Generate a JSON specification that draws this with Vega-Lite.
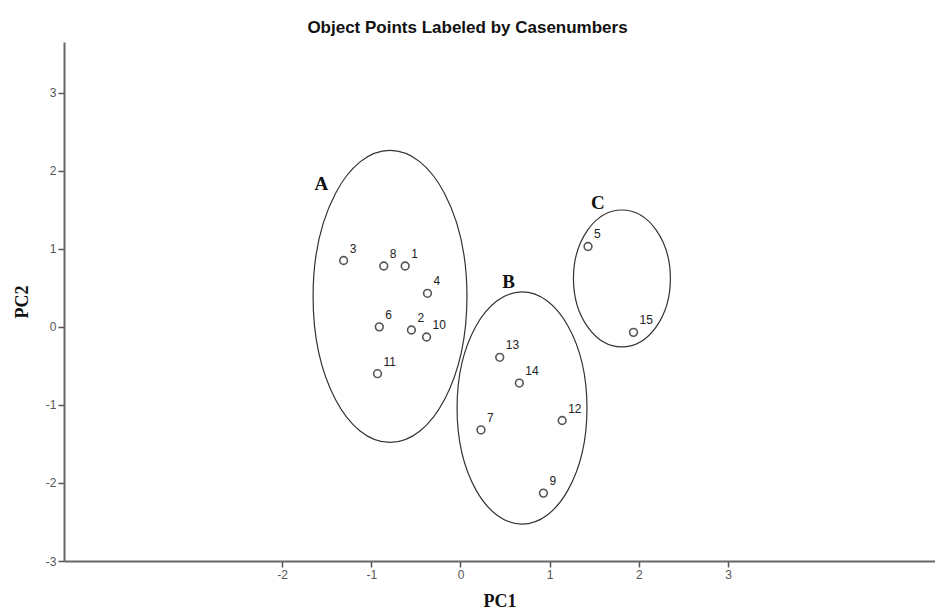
{
  "$schema": "https://vega.github.io/schema/vega-lite/v6.json",
  "width": 871,
  "height": 519,
  "autosize": {"type": "none"},
  "padding": {"left": 64, "top": 42, "right": 0, "bottom": 54},
  "background": "white",
  "title": {
    "text": "Object Points Labeled by Casenumbers",
    "font": "Liberation Sans",
    "fontSize": 17,
    "fontWeight": "bold",
    "color": "#111",
    "anchor": "middle",
    "dx": -32,
    "offset": 5
  },
  "config": {
    "view": {"stroke": null},
    "axis": {
      "grid": false,
      "domainColor": "#666",
      "domainWidth": 2,
      "tickColor": "#555",
      "tickWidth": 1.5,
      "tickSize": 6,
      "labelFont": "Liberation Sans",
      "labelFontSize": 12,
      "labelColor": "#555",
      "labelExpr": "'' + datum.value",
      "titleFont": "Liberation Serif",
      "titleFontSize": 18,
      "titleFontWeight": "bold",
      "titleColor": "#111"
    }
  },
  "datasets": {
    "points": [
      {"case": "1", "pc1": -0.62, "pc2": 0.78},
      {"case": "2", "pc1": -0.55, "pc2": -0.04},
      {"case": "3", "pc1": -1.31, "pc2": 0.85},
      {"case": "4", "pc1": -0.37, "pc2": 0.43},
      {"case": "5", "pc1": 1.43, "pc2": 1.03},
      {"case": "6", "pc1": -0.91, "pc2": 0.0},
      {"case": "7", "pc1": 0.23, "pc2": -1.32},
      {"case": "8", "pc1": -0.86, "pc2": 0.78},
      {"case": "9", "pc1": 0.93, "pc2": -2.13},
      {"case": "10", "pc1": -0.38, "pc2": -0.13},
      {"case": "11", "pc1": -0.93, "pc2": -0.6},
      {"case": "12", "pc1": 1.14, "pc2": -1.2},
      {"case": "13", "pc1": 0.44, "pc2": -0.39},
      {"case": "14", "pc1": 0.66, "pc2": -0.72},
      {"case": "15", "pc1": 1.94, "pc2": -0.07}
    ],
    "clusters": [
      {"group": "A", "cx": -0.79, "cy": 0.39, "lx": -1.56, "ly": 1.83},
      {"group": "B", "cx": 0.69, "cy": -1.04, "lx": 0.54, "ly": 0.57},
      {"group": "C", "cx": 1.81, "cy": 0.62, "lx": 1.54, "ly": 1.59}
    ]
  },
  "layer": [
    {
      "mark": {"type": "rule", "color": "#888", "strokeWidth": 2},
      "encoding": {"y": {"datum": 3.65, "type": "quantitative"}}
    },
    {
      "data": {"name": "clusters"},
      "mark": {"type": "point", "filled": false, "stroke": "#333", "strokeWidth": 1.2, "opacity": 1, "size": 85264},
      "encoding": {
        "x": {
          "field": "cx", "type": "quantitative",
          "scale": {"domain": [-4.445, 5.32], "nice": false, "zero": false},
          "axis": {"values": [-2, -1, 0, 1, 2, 3], "title": "PC1", "titlePadding": 12}
        },
        "y": {
          "field": "cy", "type": "quantitative",
          "scale": {"domain": [-3, 3.65], "nice": false, "zero": false},
          "axis": {"values": [-3, -2, -1, 0, 1, 2, 3], "title": "PC2", "titlePadding": 14}
        },
        "shape": {
          "field": "group", "type": "nominal",
          "scale": {
            "domain": ["A", "B", "C"],
            "range": [
              "M -0.527 0 A 0.527 1 0 1 0 0.527 0 A 0.527 1 0 1 0 -0.527 0 Z",
              "M -0.445 0 A 0.445 0.795 0 1 0 0.445 0 A 0.445 0.795 0 1 0 -0.445 0 Z",
              "M -0.332 0 A 0.332 0.469 0 1 0 0.332 0 A 0.332 0.469 0 1 0 -0.332 0 Z"
            ]
          },
          "legend": null
        }
      }
    },
    {
      "data": {"name": "clusters"},
      "mark": {"type": "text", "font": "Liberation Serif", "fontSize": 19, "fontWeight": "bold", "color": "#111"},
      "encoding": {
        "x": {"field": "lx", "type": "quantitative"},
        "y": {"field": "ly", "type": "quantitative"},
        "text": {"field": "group"}
      }
    },
    {
      "data": {"name": "points"},
      "mark": {"type": "point", "filled": false, "stroke": "#555", "strokeWidth": 1.6, "size": 60, "opacity": 1},
      "encoding": {
        "x": {"field": "pc1", "type": "quantitative"},
        "y": {"field": "pc2", "type": "quantitative"}
      }
    },
    {
      "data": {"name": "points"},
      "mark": {"type": "text", "font": "Liberation Sans", "fontSize": 12, "color": "#222", "align": "left", "dx": 6, "dy": -12},
      "encoding": {
        "x": {"field": "pc1", "type": "quantitative"},
        "y": {"field": "pc2", "type": "quantitative"},
        "text": {"field": "case"}
      }
    }
  ]
}
